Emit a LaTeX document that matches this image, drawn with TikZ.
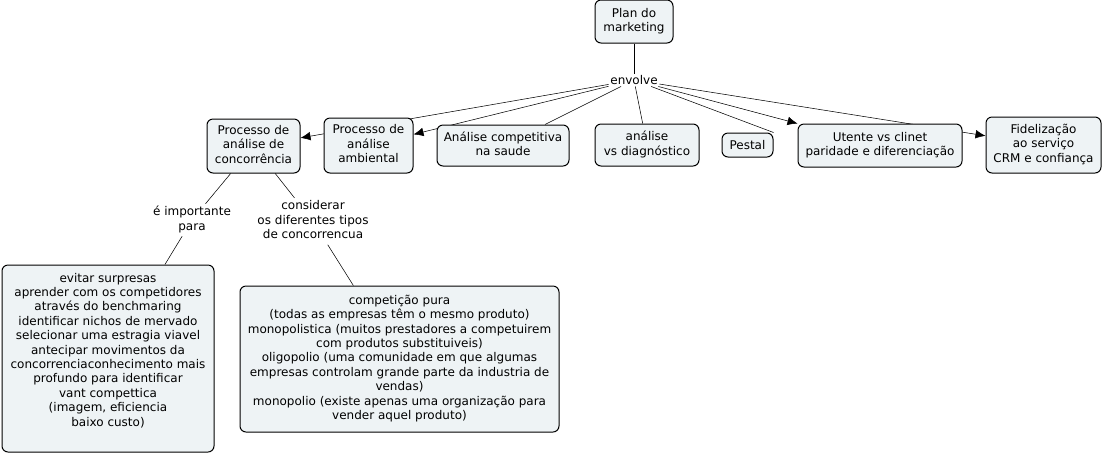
\documentclass[tikz,border=0pt]{standalone}
\usepackage{fontspec}
\setmainfont{DejaVu Sans}
\usepackage{tikz}
\usetikzlibrary{arrows.meta,backgrounds}
\definecolor{conceptfill}{RGB}{238,243,245}

\begin{document}
\begin{tikzpicture}[
    x=0.75pt, y=-0.75pt,
    >={Latex[length=7.5pt,width=6.5pt]},
    font=\fontsize{9}{10.8}\selectfont,
    line width=0.75pt,
    concept/.style={
		rectangle,
		rounded corners=4.5pt,
		draw=black,
		text centered,
		inner sep=0pt,
		fill=conceptfill
	},
	link/.style={
		inner sep=1pt
	}
  ]
  \useasboundingbox (0,0) rectangle (1103,455);
    % We start by placing the concepts

  \node [concept, minimum width=58.5pt, minimum height=32.25pt] (plan) at (634,21.5)
 {%
 \begin{tabular}{@{}c@{}}
  Plan do\\
  marketing
 \end{tabular}
 };

  \node [link] (envolve) at (634,80) {envolve};

  \node [concept, minimum width=69.75pt, minimum height=40.5pt] (concorrencia) at (253.5,146)
 {%
 \begin{tabular}{@{}c@{}}
  Processo de\\
  análise de\\
  concorrência
 \end{tabular}
 };

  \node [concept, minimum width=66.75pt, minimum height=41.25pt] (ambiental) at (368.5,145.5)
 {%
 \begin{tabular}{@{}c@{}}
  Processo de\\
  análise\\
  ambiental
 \end{tabular}
 };

  \node [concept, minimum width=99pt, minimum height=30.75pt] (competitiva) at (503,145.5)
 {%
 \begin{tabular}{@{}c@{}}
  Análise competitiva\\
  na saude
 \end{tabular}
 };

  \node [concept, minimum width=78pt, minimum height=31.5pt] (diagnostico) at (647,145)
 {%
 \begin{tabular}{@{}c@{}}
  análise\\
  vs diagnóstico
 \end{tabular}
 };

  \node [concept, minimum width=38.25pt, minimum height=18pt] (pestal) at (747.5,145) {Pestal};

  \node [concept, minimum width=123pt, minimum height=32.25pt] (utente) at (880,145.5)
 {%
 \begin{tabular}{@{}c@{}}
  Utente vs clinet\\
  paridade e diferenciação
 \end{tabular}
 };

  \node [concept, minimum width=86.25pt, minimum height=42pt] (fidelizacao) at (1043.5,145)
 {%
 \begin{tabular}{@{}c@{}}
  Fidelização\\
  ao serviço\\
  CRM e confiança
 \end{tabular}
 };

  \node [link] (importante) at (192,220)
 {%
 \begin{tabular}{@{}c@{}}
  é importante\\
  para
 \end{tabular}
 };

  \node [link] (considerar) at (313,221.3)
 {%
 \begin{tabular}{@{}c@{}}
  considerar\\
  os diferentes tipos\\
  de concorrencua
 \end{tabular}
 };

  \node [concept, minimum width=159pt, minimum height=140.25pt] (evitar) at (108,358.5)
 {%
 \begin{tabular}{@{}c@{}}
  evitar surpresas\\
  aprender com os competidores\\
  através do benchmaring\\
  identificar nichos de mervado\\
  selecionar uma estragia viavel\\
  antecipar movimentos da\\
  concorrenciaconhecimento mais\\
  profundo para identificar\\
  vant compettica\\
  (imagem, eficiencia\\
  baixo custo)\\
  \mbox{}
 \end{tabular}
 };

  \node [concept, minimum width=239.25pt, minimum height=109.5pt] (tipos) at (399.5,359)
 {%
 \begin{tabular}{@{}c@{}}
  competição pura\\
  (todas as empresas têm o mesmo produto)\\
  monopolistica (muitos prestadores a competuirem\\
  com produtos substituiveis)\\
  oligopolio (uma comunidade em que algumas\\
  empresas controlam grande parte da industria de\\
  vendas)\\
  monopolio (existe apenas uma organização para\\
  vender aquel produto)
 \end{tabular}
 };

 % connectors go behind the concepts
 \begin{scope}[on background layer]
 \draw (plan) -- (envolve);
 \draw [->] (envolve) -- (concorrencia);
 \draw [->] (envolve) -- (ambiental);
 \draw (envolve) -- (competitiva);
 \draw (envolve) -- (diagnostico);
 \draw (envolve) -- (pestal.north east);
 \draw [->] (envolve) -- (utente);
 \draw [->] (envolve) -- (fidelizacao);
 \draw (concorrencia) -- (importante);
 \draw (importante) -- (evitar);
 \draw (concorrencia) -- (considerar);
 \draw (considerar) -- (tipos);
 \end{scope}

\end{tikzpicture}
\end{document}
